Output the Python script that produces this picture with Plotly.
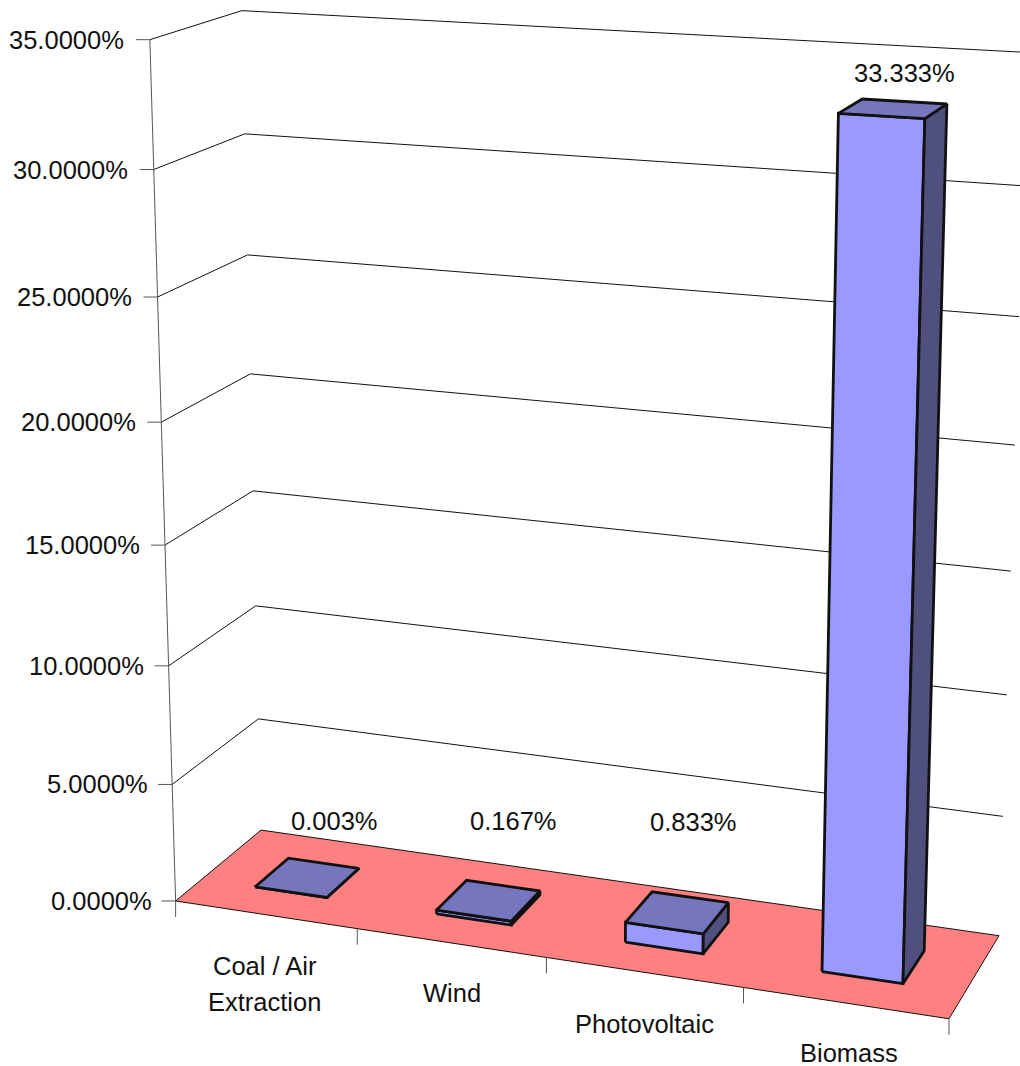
import numpy as np
import plotly.graph_objects as go

# Chart data
categories = ["Coal / Air\nExtraction", "Wind", "Photovoltaic", "Biomass"]
shares = [0.003, 0.167, 0.833, 33.333]
axis_values = [0, 5, 10, 15, 20, 25, 30, 35]
axis_labels = [f"{v:.4f}%" for v in axis_values]

# Label placement on the page
share_label_xy = [(334.5, 821), (513, 821), (693.5, 822), (904.5, 73)]
category_label_xy = [[(264.5, 966), (264.5, 1002)], [(452, 993)], [(644.5, 1024)], [(849, 1053)]]

# Colours and strokes
FLOOR = "#FF8080"
FRONT = "#9999FF"
TOP = "#7676BF"
SIDE = "#50507F"
INK = "#111111"
FONT = dict(family="Liberation Sans", size=25.5, color="#111111")
BAR_FILL = 0.4        # share of a category slot taken by its bar, in width and in depth

# Camera calibration: (category position, depth, percent) -> page position
frame_3d = [
    (0, 0, 0), (0, 0, 5), (0, 0, 10), (0, 0, 15), (0, 0, 20), (0, 0, 25), (0, 0, 30), (0, 0, 35),
    (0, 1, 0), (0, 1, 5), (0, 1, 10), (0, 1, 15), (0, 1, 20), (0, 1, 25), (0, 1, 30), (0, 1, 35),
    (4, 1, 0), (4, 1, 5), (4, 1, 10), (4, 1, 15), (4, 1, 20), (4, 1, 25), (4, 1, 30), (4, 1, 35),
    (4, 0, 0), (1, 0, 0), (2, 0, 0), (3, 0, 0),
]
frame_page = [
    (176, 902), (172, 784), (169, 666), (165, 544), (161, 422), (158, 296), (154, 170), (150, 40),
    (261, 830), (259, 719), (256, 606), (253, 491), (250, 373), (247, 255), (245, 133), (241, 12),
    (999, 935), (1003, 816), (1006.5, 695), (1011, 571), (1015, 447), (1019, 317), (1023.5, 184), (1028, 53),
    (949, 1019), (357, 930), (546, 957), (743, 987),
]


def fit_camera(world, page):
    rows = []
    for (u, d, v), (x, y) in zip(world, page):
        w = np.array([u, d, v / 35.0, 1.0])
        rows.append(np.r_[w, np.zeros(4), -x / 1000.0 * w])
        rows.append(np.r_[np.zeros(4), w, -y / 1000.0 * w])
    return np.linalg.svd(np.array(rows))[2][-1].reshape(3, 4)


CAMERA = fit_camera(frame_3d, frame_page)


def project(u, d, v):
    h = CAMERA @ np.array([u, d, v / 35.0, 1.0])
    return 1000.0 * h[0] / h[2], 1000.0 * h[1] / h[2]


fig = go.Figure()


def stroke(points, width=1.0, color=INK):
    xs, ys = zip(*points)
    fig.add_trace(go.Scatter(x=xs, y=ys, mode="lines", line=dict(color=color, width=width),
                             hoverinfo="skip", showlegend=False))


def face(corners, fill, width):
    pts = [project(*c) for c in corners]
    pts.append(pts[0])
    xs, ys = zip(*pts)
    fig.add_trace(go.Scatter(x=xs, y=ys, mode="lines", fill="toself", fillcolor=fill,
                             line=dict(color=INK, width=width, simplify=False),
                             hoverinfo="skip", showlegend=False))


# Side and back wall gridlines
last = len(categories)
for v in axis_values[1:]:
    stroke([project(0, 0, v), project(0, 1, v), project(last, 1, v)])

# Value axis with its ticks
stroke([project(0, 0, 0), project(0, 0, axis_values[-1])], color="#555555")
for v in axis_values:
    x, y = project(0, 0, v)
    stroke([(x - 14, y), (x, y)], color="#555555")

# Floor
face([(0, 0, 0), (last, 0, 0), (last, 1, 0), (0, 1, 0)], FLOOR, 1.0)

# Category dividers hanging below the floor
for i in range(last + 1):
    x, y = project(i, 0, 0)
    stroke([(x, y), (x, y + 16)], color="#555555")

# Bars, each with front, side and top faces
margin = (1 - BAR_FILL) / 2
for i, value in enumerate(shares):
    u0, u1 = i + margin, i + 1 - margin
    d0, d1 = margin, 1 - margin
    face([(u0, d0, 0), (u1, d0, 0), (u1, d0, value), (u0, d0, value)], FRONT, 2.8)
    face([(u1, d0, 0), (u1, d1, 0), (u1, d1, value), (u1, d0, value)], SIDE, 2.8)
    face([(u0, d0, value), (u1, d0, value), (u1, d1, value), (u0, d1, value)], TOP, 2.8)

annotations = []


def label(x, y, text, anchor="center"):
    annotations.append(dict(x=x, y=y, text=text, showarrow=False, font=FONT,
                            xanchor=anchor, yanchor="middle", xref="x", yref="y"))


for v, text in zip(axis_values, axis_labels):
    x, y = project(0, 0, v)
    label(x - 22 - 2 * v / 35, y, text, "right")

for value, (x, y) in zip(shares, share_label_xy):
    label(x, y, f"{value:.3f}%")

for name, spots in zip(categories, category_label_xy):
    for line, (x, y) in zip(name.split("\n"), spots):
        label(x, y, line)

hidden = dict(visible=False, fixedrange=True)
fig.update_layout(
    width=1020, height=1066, margin=dict(l=0, r=0, t=0, b=0),
    paper_bgcolor="white", plot_bgcolor="white", showlegend=False,
    xaxis=dict(range=[0, 1020], **hidden),
    yaxis=dict(range=[1066, 0], **hidden),
    annotations=annotations,
)
fig.write_html("out.html", config=dict(displayModeBar=False))
